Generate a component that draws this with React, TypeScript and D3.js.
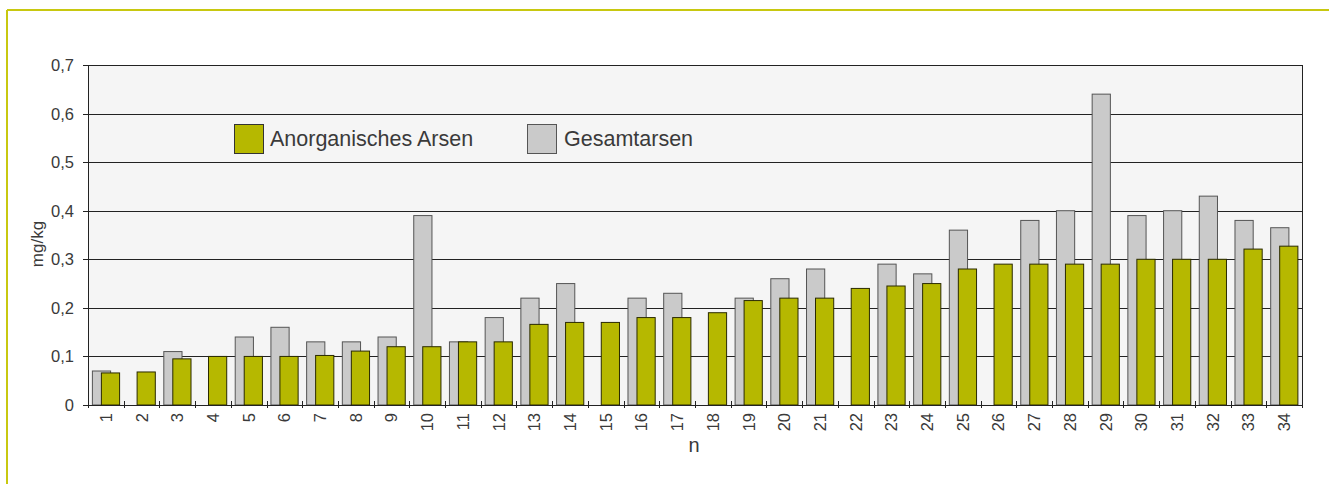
import React from "react";
import * as d3 from "d3";

const categories: string[] = Array.from({ length: 34 }, (_, i) => String(i + 1));
const gesamtarsen: (number | null)[] = [
  0.07, null, 0.11, null, 0.14, 0.16, 0.13, 0.13, 0.14, 0.39,
  0.13, 0.18, 0.22, 0.25, null, 0.22, 0.23, null, 0.22, 0.26,
  0.28, null, 0.29, 0.27, 0.36, null, 0.38, 0.40, 0.64, 0.39,
  0.40, 0.43, 0.38, 0.365,
];
const anorganisch: number[] = [
  0.066, 0.068, 0.095, 0.10, 0.10, 0.10, 0.102, 0.111, 0.12, 0.12,
  0.13, 0.13, 0.166, 0.17, 0.17, 0.18, 0.18, 0.19, 0.215, 0.22,
  0.22, 0.24, 0.245, 0.25, 0.28, 0.29, 0.29, 0.29, 0.29, 0.30,
  0.30, 0.30, 0.321, 0.327,
];
const yTicks: number[] = [0, 0.1, 0.2, 0.3, 0.4, 0.5, 0.6, 0.7];
const seriesNames = ["Anorganisches Arsen", "Gesamtarsen"];

const W = 1329;
const H = 484;
const left = 88, right = 1302, top = 65, bottom = 405;
const GREEN = "#b6b800";
const GRAY = "#cacaca";
const FONT = "'Liberation Sans', Arial, sans-serif";
const TXT = "#3a3a3a";

export default function App() {
  const x = d3.scaleBand<string>().domain(categories).range([left, right]).paddingInner(0).paddingOuter(0);
  const y = d3.scaleLinear().domain([0, 0.7]).range([bottom, top]);
  const bw = x.bandwidth();
  const fmt = (v: number) => (v === 0 ? "0" : d3.format(".1f")(v).replace(".", ","));
  const crisp = (v: number) => Math.round(v) + 0.5;

  return (
    <svg width={W} height={H} style={{ position: "absolute", left: 0, top: 0, background: "#fff" }} fontFamily={FONT}>
      {/* outer frame */}
      <line x1={7} y1={10} x2={W} y2={10} stroke="#c8c810" strokeWidth={2} />
      <line x1={7} y1={10} x2={7} y2={H} stroke="#c8c810" strokeWidth={2} />

      {/* plot background */}
      <rect x={left} y={top} width={right - left} height={bottom - top} fill="#f5f5f5" />

      {/* gridlines */}
      {yTicks.map((t) => (
        <line key={"g" + t} x1={left} x2={right} y1={crisp(y(t))} y2={crisp(y(t))} stroke="#222" strokeWidth={1} />
      ))}
      <line x1={crisp(right)} x2={crisp(right)} y1={top} y2={bottom} stroke="#222" strokeWidth={1} />

      {/* bars */}
      {categories.map((c, i) => {
        const g = gesamtarsen[i];
        const a = anorganisch[i];
        const x0 = x(c)!;
        return (
          <g key={"b" + c}>
            {g != null && (
              <rect x={x0 + bw * 0.123} y={y(g)} width={bw * 0.51} height={y(0) - y(g)} fill={GRAY} stroke="#555" strokeWidth={1} />
            )}
            <rect x={x0 + bw * 0.375} y={y(a)} width={bw * 0.51} height={y(0) - y(a)} fill={GREEN} stroke="#2a2a00" strokeWidth={1} />
          </g>
        );
      })}

      {/* axes */}
      <line x1={crisp(left)} x2={crisp(left)} y1={top} y2={bottom} stroke="#222" strokeWidth={1} />
      <line x1={left - 5} x2={right} y1={crisp(bottom)} y2={crisp(bottom)} stroke="#222" strokeWidth={1} />
      {yTicks.map((t) => (
        <g key={"yt" + t}>
          <line x1={left - 5} x2={left} y1={crisp(y(t))} y2={crisp(y(t))} stroke="#222" />
          <text x={74} y={y(t)} dy="0.36em" textAnchor="end" fontSize={16.5} fill={TXT}>{fmt(t)}</text>
        </g>
      ))}
      {categories.map((c) => (
        <line key={"xt" + c} x1={crisp(x(c)!)} x2={crisp(x(c)!)} y1={401} y2={408} stroke="#222" />
      ))}
      <line x1={crisp(right)} x2={crisp(right)} y1={401} y2={408} stroke="#222" />
      {categories.map((c) => (
        <text key={"xl" + c} transform={`translate(${x(c)! + bw / 2},413) rotate(-90)`} textAnchor="end" dy="0.36em" fontSize={16.5} fill={TXT}>{c}</text>
      ))}

      {/* axis titles */}
      <text transform={`translate(43,244) rotate(-90)`} textAnchor="middle" fontSize={17} fill={TXT}>mg/kg</text>
      <text x={694} y={452} textAnchor="middle" fontSize={20} fill={TXT}>n</text>

      {/* legend */}
      <rect x={234.5} y={124.5} width={29} height={29} fill={GREEN} stroke="#333" />
      <text x={270} y={146} fontSize={21.5} fill={TXT}>{seriesNames[0]}</text>
      <rect x={527.5} y={124.5} width={29} height={29} fill={GRAY} stroke="#555" />
      <text x={564} y={146} fontSize={21.5} fill={TXT}>{seriesNames[1]}</text>
    </svg>
  );
}
